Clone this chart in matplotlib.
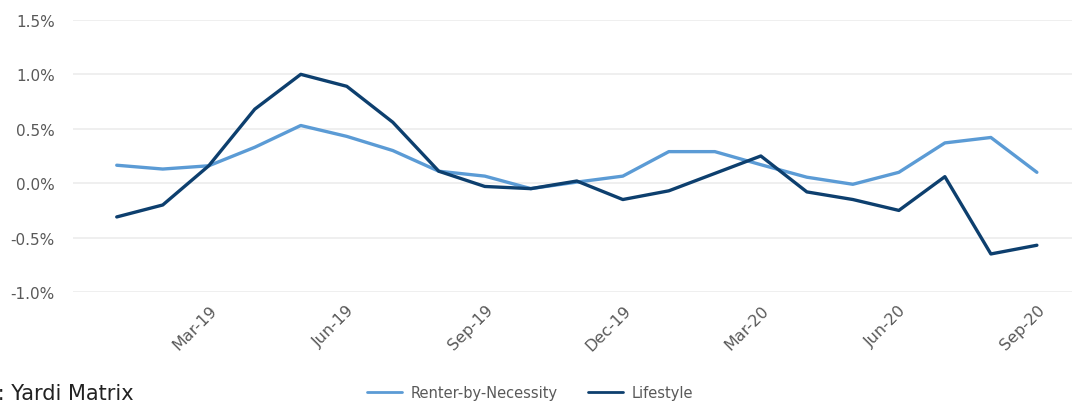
import numpy as np
import matplotlib
matplotlib.use("Agg")
import matplotlib.pyplot as plt
from matplotlib.ticker import FuncFormatter

# monthly values, Jan-19 .. Sep-20 (%)
months = ['Jan-19', 'Feb-19', 'Mar-19', 'Apr-19', 'May-19', 'Jun-19', 'Jul-19',
          'Aug-19', 'Sep-19', 'Oct-19', 'Nov-19', 'Dec-19', 'Jan-20', 'Feb-20',
          'Mar-20', 'Apr-20', 'May-20', 'Jun-20', 'Jul-20', 'Aug-20', 'Sep-20']
rbn = [0.165, 0.13, 0.16, 0.33, 0.53, 0.43, 0.30, 0.11, 0.065, -0.05, 0.01,
       0.065, 0.29, 0.29, 0.17, 0.055, -0.01, 0.10, 0.37, 0.42, 0.10]
lifestyle = [-0.31, -0.20, 0.16, 0.68, 1.00, 0.89, 0.56, 0.11, -0.03, -0.05, 0.02,
             -0.15, -0.07, 0.09, 0.25, -0.08, -0.15, -0.25, 0.06, -0.65, -0.57]
tick_months = ['Mar-19', 'Jun-19', 'Sep-19', 'Dec-19', 'Mar-20', 'Jun-20', 'Sep-20']

light = '#5b9bd5'
dark = '#0d3f6e'
grey = '#595959'

fig = plt.figure(figsize=(10.74, 4.02), dpi=100)
ax = fig.add_axes([0.068, 0.271, 0.93, 0.677])

x = np.arange(len(months))
ax.plot(x, rbn, color=light, lw=2.4, label='Renter-by-Necessity', solid_capstyle='round')
ax.plot(x, lifestyle, color=dark, lw=2.4, label='Lifestyle', solid_capstyle='round')

ax.set_ylim(-1.0, 1.5)
ax.set_yticks(np.arange(-1.0, 1.51, 0.5))
ax.yaxis.set_major_formatter(FuncFormatter(lambda v, p: f'{v:.1f}%'))
ax.set_xlim(-0.95, 20.76)
ax.set_xticks([months.index(m) for m in tick_months])
ax.set_xticklabels(tick_months, rotation=45, ha='right', rotation_mode='anchor')

ax.grid(axis='y', color='#ececec', lw=1.2)
ax.set_axisbelow(True)
for s in ax.spines.values():
    s.set_visible(False)
ax.tick_params(length=0, colors=grey, labelsize=11)
ax.tick_params(axis='x', pad=7, labelsize=11.5)
ax.tick_params(axis='y', pad=13)

# source note is cropped at the left edge in the original
fig.text(0.124, 0.006, 'Source: Yardi Matrix', ha='right', va='baseline',
         fontsize=15, color='#222222')
leg = fig.legend(loc='center', bbox_to_anchor=(0.4935, 0.02), ncol=2, frameon=False,
                 fontsize=10.5, handlelength=2.4, handletextpad=0.55,
                 columnspacing=2.1, labelcolor=grey)
for h in leg.get_lines():
    h.set_linewidth(2)

fig.savefig('out.png', dpi=100)
